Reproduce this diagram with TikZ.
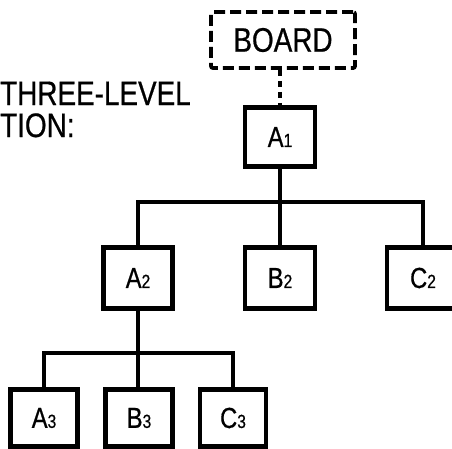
\documentclass[tikz,border=0pt]{standalone}
\usepackage{fontspec}
\setmainfont{Liberation Sans}[FakeStretch=0.82, FakeBold=0.6]
\begin{document}
\begin{tikzpicture}[x=1pt,y=-1pt,
  unit/.style={draw, line width=4.4pt, inner sep=0pt, minimum width=70pt, minimum height=59pt,
    font=\fontsize{29}{29}\selectfont},
  boardbox/.style={draw, line width=3.8pt, dash pattern=on 11pt off 5pt, rounded corners=2pt,
    inner sep=0pt, minimum width=144pt, minimum height=56pt, font=\fontsize{34}{34}\selectfont},
  conn/.style={line width=3.6pt},
  dotconn/.style={line width=3.8pt, dash pattern=on 6pt off 5pt},
  caption/.style={anchor=base west, align=left, inner sep=0pt,
    font=\fontsize{34}{32}\selectfont}]
\newcommand{\lvl}[2]{#1{\fontsize{19}{19}\selectfont #2}}
\useasboundingbox (0,0) rectangle (452,448);
\clip (0,0) rectangle (452,448);

% caption at the left
\node[caption] (cap) at (0,137) {THREE-LEVEL\\TION:};

% board and top manager
\node[boardbox] (board) at (283,40) {BOARD};
\node[unit] (A1) at (280,137) {\lvl{A}{1}};

% second level
\node[unit, minimum width=69pt, minimum height=61pt] (A2) at (138,278) {\lvl{A}{2}};
\node[unit, minimum height=61pt] (B2) at (280,278) {\lvl{B}{2}};
\node[unit, minimum width=72pt, minimum height=61pt] (C2) at (423,278) {\lvl{C}{2}};

% third level
\node[unit, minimum width=67pt, minimum height=57pt] (A3) at (44,418) {\lvl{A}{3}};
\node[unit, minimum width=67pt, minimum height=57pt] (B3) at (139,418) {\lvl{B}{3}};
\node[unit, minimum width=66pt, minimum height=57pt] (C3) at (233,418) {\lvl{C}{3}};

% branch points
\coordinate (b1) at (280,202);
\coordinate (b2) at (138,353);

% connectors
\draw[dotconn] (A1.north |- board.south) -- (A1.north);
\draw[conn] (A1.south) -- (B2.north);
\draw[conn] (A2.north) |- (b1) -| (C2.north);
\draw[conn] (A2.south) -- (b2);
\draw[conn] (b2) -- (b2 |- B3.north);
\draw[conn] (A3.north) |- (b2) -| (C3.north);
\end{tikzpicture}
\end{document}
